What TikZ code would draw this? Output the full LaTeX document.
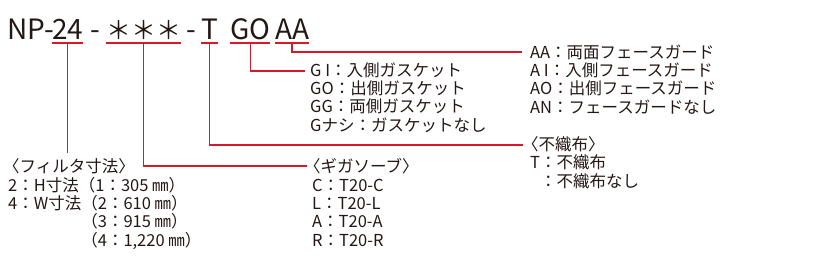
\documentclass[tikz,border=0pt]{standalone}
\usepackage{fontspec}
\setmainfont{Noto Sans CJK JP}
\usetikzlibrary{positioning,calc}

\definecolor{leadred}{RGB}{214,24,40}
\definecolor{inkgray}{RGB}{35,24,21}

\begin{document}
\begin{tikzpicture}[x=1pt,y=-1pt,
  part/.style={anchor=base west,inner sep=0pt,text=inkgray,
    font=\fontsize{28}{28}\selectfont},
  spec/.style={anchor=base west,inner sep=0pt,align=left,text=inkgray,
    font=\fontsize{16.5}{18.3}\selectfont},
  lead/.style={leadred,line width=1.3pt}]

  % page frame
  \useasboundingbox (0,0) rectangle (820,276);

  % model code
  \node[part] (np)  at (7,39)   {NP-};
  \node[part] (n24) at (52,39)  {24};
  \node[part] (d1)  at (90,39)  {-};
  \node[part,font=\fontsize{25}{25}\selectfont] (ast) at (106,39) {＊＊＊};
  \node[part] (d2)  at (186,39) {-};
  \node[part] (tt)  at (201,39) {T};
  \node[part] (go)  at (230,39) {GO};
  \node[part] (aa)  at (275,39) {AA};

  % underlines
  \coordinate (ul) at (0,43);
  \foreach \p in {n24,ast,tt,go,aa} {
    \draw[lead] (\p.west |- ul) -- (\p.east |- ul);
    \coordinate (\p-ul) at ($(\p.west |- ul)!0.5!(\p.east |- ul)$);
  }

  % option lists (base = last line)
  \node[spec] (aaspec) at (530,113)
    {AA：両面フェースガード\\A I：入側フェースガード\\AO：出側フェースガード\\AN：フェースガードなし};
  \node[spec] (gospec) at (310,131)
    {G I：入側ガスケット\\GO：出側ガスケット\\GG：両側ガスケット\\Gナシ：ガスケットなし};
  \node[spec] (tspec) at (530,187)
    {\hspace*{-8pt}〈不織布〉\\T：不織布\\\phantom{T}：不織布なし};
  \node[spec] (gigspec) at (312,246)
    {\hspace*{-8pt}〈ギガソーブ〉\\C：T20-C\\L：T20-L\\A：T20-A\\R：T20-R};
  \node[spec] (filspec) at (8,246)
    {\hspace*{-5pt}〈フィルタ寸法〉\\2：H寸法（1：305 ㎜）\\4：W寸法（2：610 ㎜）\\
     \phantom{4：W寸法}（3：915 ㎜）\\\phantom{4：W寸法}（4：1,220 ㎜）};

  % leaders
  \draw[lead] (aa-ul) |- ($(aaspec.base west)+(-8,-61)$);
  \draw[lead] (go-ul) |- ($(gospec.base west)+(-5,-60)$);
  \draw[lead] (tt-ul) |- ($(tspec.base west)+(-7,-42)$);
  \draw[lead] (ast-ul) |- ($(gigspec.base west)+(-5,-80)$);
  \draw[lead,shorten >=6pt] (n24-ul) -- (n24-ul |- filspec.north);

\end{tikzpicture}
\end{document}
